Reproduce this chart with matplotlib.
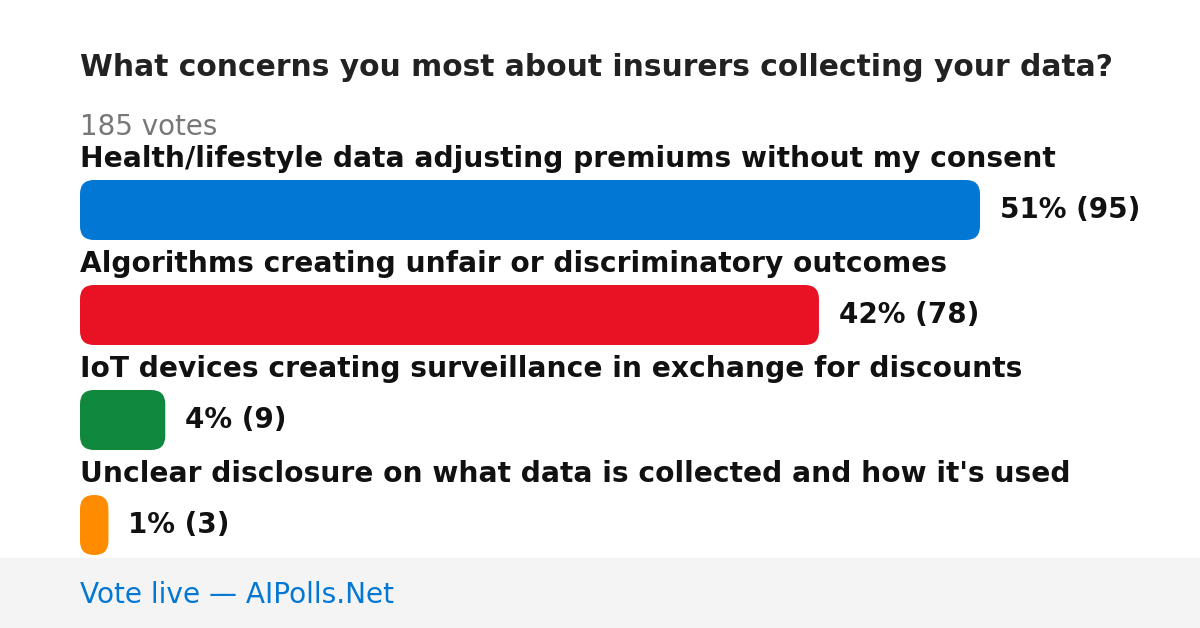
import matplotlib.pyplot as plt
from matplotlib.patches import FancyBboxPatch, Rectangle

plt.rcParams['font.family'] = ['DejaVu Sans']

# Poll data
title = "What concerns you most about insurers collecting your data?"
total_votes = 185
options = [
    "Health/lifestyle data adjusting premiums without my consent",
    "Algorithms creating unfair or discriminatory outcomes",
    "IoT devices creating surveillance in exchange for discounts",
    "Unclear disclosure on what data is collected and how it's used",
]
votes = [95, 78, 9, 3]
percents = [51, 42, 4, 1]
colors = ['#0278d4', '#e81224', '#10893e', '#ff8c00']

W, H = 1200, 628
fig = plt.figure(figsize=(W / 100, H / 100), dpi=100)
ax = fig.add_axes([0, 0, 1, 1])
ax.set_xlim(0, W)
ax.set_ylim(H, 0)
ax.axis('off')

left = 80
bar_max = 900  # pixel width of the largest bar
bar_h = 60
max_votes = max(votes)

ax.text(left, 68, title, fontsize=21.45, fontweight='bold', color='#222222', va='center')
ax.text(left, 127, f"{total_votes} votes", fontsize=20, color='#777777', va='center')

for i, (opt, v, p, c) in enumerate(zip(options, votes, percents, colors)):
    y_label = 159 + i * 105
    y_bar = 180 + i * 105
    w = v / max_votes * bar_max
    r = min(14, w / 2)
    ax.text(left, y_label, opt, fontsize=20.25, fontweight='bold', color='#111111', va='center')
    ax.add_patch(FancyBboxPatch((left, y_bar), w, bar_h,
                                boxstyle=f"round,pad=0,rounding_size={r}",
                                fc=c, ec='none'))
    ax.text(left + w + 20, y_bar + bar_h / 2, f"{p}% ({v})", fontsize=20,
            fontweight='bold', color='#111111', va='center')

# Footer
ax.add_patch(Rectangle((0, 558), W, H - 558, fc='#f4f4f4', ec='none'))
ax.text(left, 595, "Vote live \u2014 AIPolls.Net", fontsize=20.2, color='#0278d4', va='center')

fig.savefig('out.png', dpi=100)
